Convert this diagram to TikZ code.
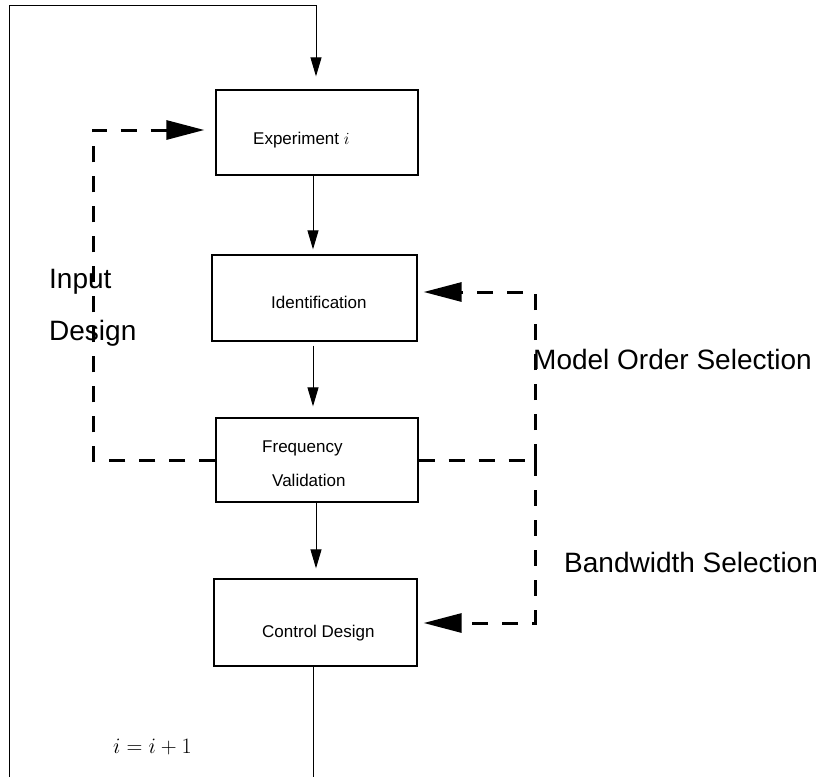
\RequirePackage{fix-cm}
\documentclass[tikz,border=0pt]{standalone}
\usepackage{fontspec}
\setmainfont{Liberation Sans}
\usetikzlibrary{arrows.meta}
\begin{document}
\begin{tikzpicture}[x=1pt,y=-1pt,
  box/.style={draw, line width=1.3pt, inner sep=0pt, rectangle},
  small/.style={inner sep=0pt, font=\fontsize{17}{20}\selectfont, anchor=base west},
  big/.style={inner sep=0pt, font=\fontsize{28}{32}\selectfont, anchor=base west},
  solidarrow/.style={line width=1pt, -{Triangle[length=19pt,width=11pt]}},
  plainline/.style={line width=1pt},
  dashline/.style={line width=3pt, dash pattern=on 16pt off 14pt},
  dasharrow/.style={dashline, -{Triangle[length=38pt,width=19pt]}}]
\useasboundingbox (0,0) rectangle (824,777);
% boxes
\node[box, minimum width=202pt, minimum height=85pt] (exp) at (317,132.5) {};
\node[box, minimum width=205pt, minimum height=86pt] (ident) at (314.5,298) {};
\node[box, minimum width=202pt, minimum height=84pt] (freq) at (317,460) {};
\node[box, minimum width=203pt, minimum height=87pt] (ctrl) at (315.5,622.5) {};
% texts in boxes
\node[small] (texp) at (253,144) {Experiment $i$};
\node[small] (tident) at (271,308) {Identification};
\node[small] (tfreq1) at (262,452) {Frequency};
\node[small] (tfreq2) at (272,486) {Validation};
\node[small] (tctrl) at (262,637) {Control Design};
% labels
\node[big] (lin1) at (49,288) {Input};
\node[big] (lin2) at (49,340) {Design};
\node[big] (lmos) at (533,369) {Model Order Selection};
\node[big] (lbw) at (564,572) {Bandwidth Selection};
\node[inner sep=0pt, anchor=base west, font=\fontsize{22}{26}\selectfont] (linc) at (113,753) {$i=i+1$};
% coordinates
\coordinate (botL) at (9,777);
\coordinate (topL) at (9,5);
\coordinate (topR) at (316,5);
\coordinate (botC) at (313,777);
\coordinate (dL1) at (93,460);
\coordinate (dL2) at (93,130);
\coordinate (dR) at (535,460);
\coordinate (dRt) at (535,292);
\coordinate (dRb) at (535,623);
% main flow
\draw[solidarrow, shorten >=5pt] ([xshift=-4pt]exp.south) -- ([xshift=-1.5pt]ident.north);
\draw[solidarrow, shorten <=4pt, shorten >=11pt] ([xshift=-1.5pt]ident.south) -- ([xshift=-4pt]freq.north);
\draw[solidarrow, shorten >=10pt] ([xshift=-1pt]freq.south) -- ([xshift=0.5pt]ctrl.north);
\draw[plainline] ([xshift=-2.5pt]ctrl.south) -- (botC);
\draw[solidarrow, shorten >=13pt] (botL) -- (topL) -- (topR) -- (topR |- exp.north);
% dashed feedback
\draw[dasharrow, shorten >=11pt] (freq.west) -- (dL1) -- (dL2) -- (exp.west |- dL2);
\draw[dashline] (freq.east) -- (dR);
\draw[dasharrow, shorten >=6pt] (dR) -- (dRt) -- (ident.east |- dRt);
\draw[dasharrow, shorten >=6pt] (dR) -- (dRb) -- (ctrl.east |- dRb);
\end{tikzpicture}
\end{document}
